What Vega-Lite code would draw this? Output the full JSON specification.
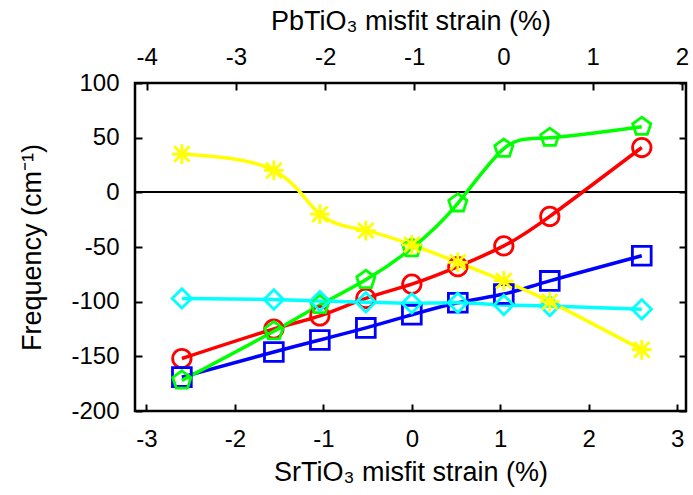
{
  "$schema": "https://vega.github.io/schema/vega-lite/v6.json",
  "autosize": {"type": "none"},
  "width": 551,
  "height": 328,
  "padding": {"left": 135, "top": 83, "right": 7, "bottom": 84},
  "background": "white",
  "config": {
    "font": "Liberation Sans",
    "view": {"stroke": "black", "strokeWidth": 2.5},
    "axis": {
      "domain": false,
      "grid": false,
      "tickColor": "black",
      "tickWidth": 2,
      "tickSize": -7,
      "labelColor": "black",
      "titleColor": "black",
      "labelFont": "Liberation Sans",
      "titleFont": "Liberation Sans",
      "labelFontSize": 24,
      "titleFontSize": 27,
      "titleFontWeight": "normal",
      "labelPadding": 23,
      "labelExpr": "'' + datum.value"
    }
  },
  "datasets": {
    "modes": [
      {"s": -2.6, "f": -152, "series": "red"},
      {"s": -1.56, "f": -125, "series": "red"},
      {"s": -1.04, "f": -113, "series": "red"},
      {"s": -0.52, "f": -97, "series": "red"},
      {"s": 0, "f": -84, "series": "red"},
      {"s": 0.52, "f": -68, "series": "red"},
      {"s": 1.04, "f": -49, "series": "red"},
      {"s": 1.56, "f": -22, "series": "red"},
      {"s": 2.6, "f": 41, "series": "red"},
      {"s": -2.6, "f": -169, "series": "blue"},
      {"s": -1.56, "f": -146, "series": "blue"},
      {"s": -1.04, "f": -135, "series": "blue"},
      {"s": -0.52, "f": -124, "series": "blue"},
      {"s": 0, "f": -112, "series": "blue"},
      {"s": 0.52, "f": -101, "series": "blue"},
      {"s": 1.04, "f": -93, "series": "blue"},
      {"s": 1.56, "f": -81, "series": "blue"},
      {"s": 2.6, "f": -58, "series": "blue"},
      {"s": -2.6, "f": -172, "series": "green"},
      {"s": -1.56, "f": -127, "series": "green"},
      {"s": -1.04, "f": -103, "series": "green"},
      {"s": -0.52, "f": -80, "series": "green"},
      {"s": 0, "f": -51, "series": "green"},
      {"s": 0.52, "f": -10, "series": "green"},
      {"s": 1.04, "f": 40, "series": "green"},
      {"s": 1.56, "f": 50, "series": "green"},
      {"s": 2.6, "f": 60, "series": "green"},
      {"s": -2.6, "f": -97, "series": "cyan"},
      {"s": -1.56, "f": -98, "series": "cyan"},
      {"s": -1.04, "f": -99.5, "series": "cyan"},
      {"s": -0.52, "f": -100.5, "series": "cyan"},
      {"s": 0, "f": -101.5, "series": "cyan"},
      {"s": 0.52, "f": -101, "series": "cyan"},
      {"s": 1.04, "f": -103, "series": "cyan"},
      {"s": 1.56, "f": -104, "series": "cyan"},
      {"s": 2.6, "f": -107, "series": "cyan"},
      {"s": -2.6, "f": 35, "series": "yellow"},
      {"s": -1.56, "f": 20, "series": "yellow"},
      {"s": -1.04, "f": -20, "series": "yellow"},
      {"s": -0.52, "f": -35, "series": "yellow"},
      {"s": 0, "f": -48, "series": "yellow"},
      {"s": 0.52, "f": -64, "series": "yellow"},
      {"s": 1.04, "f": -81, "series": "yellow"},
      {"s": 1.56, "f": -100, "series": "yellow"},
      {"s": 2.6, "f": -144, "series": "yellow"}
    ],
    "topaxis": [
      {"pb": -4.13, "fy": -200},
      {"pb": 2.045, "fy": 100}
    ]
  },
  "layer": [
    {
      "data": {"name": "modes"},
      "layer": [
        {
          "mark": {"type": "rule", "color": "black", "strokeWidth": 1},
          "encoding": {"y": {"datum": 0}}
        },
        {
          "mark": {"type": "line", "interpolate": "natural", "strokeWidth": 3.5},
          "encoding": {
            "x": {"field": "s", "type": "quantitative"},
            "y": {"field": "f", "type": "quantitative"},
            "color": {"field": "series", "type": "nominal", "legend": null,
              "scale": {"domain": ["red", "blue", "green", "cyan", "yellow"], "range": ["#ff0000", "#0000ff", "#00ff00", "#00ffff", "#ffff00"]}}
          }
        },
        {
          "mark": {"type": "point", "filled": false, "strokeWidth": 2.8, "opacity": 1},
          "encoding": {
            "x": {"field": "s", "type": "quantitative",
              "scale": {"domain": [-3.13, 3.1], "nice": false, "zero": false},
              "axis": {"orient": "bottom", "values": [-3, -2, -1, 0, 1, 2, 3], "title": "SrTiO₃ misfit strain (%)", "titlePadding": 8.5}},
            "y": {"field": "f", "type": "quantitative",
              "scale": {"domain": [-200, 100], "nice": false, "zero": false},
              "axis": {"orient": "left", "values": [-200, -150, -100, -50, 0, 50, 100], "title": "Frequency (cm⁻¹)", "titlePadding": 24}},
            "color": {"field": "series", "type": "nominal", "legend": null,
              "scale": {"domain": ["red", "blue", "green", "cyan", "yellow"], "range": ["#ff0000", "#0000ff", "#00ff00", "#00ffff", "#ffff00"]}},
            "shape": {"field": "series", "type": "nominal", "legend": null,
              "scale": {"domain": ["red", "blue", "green", "cyan", "yellow"],
                "range": ["circle", "square", "M0,-1L0.951,-0.309L0.588,0.809L-0.588,0.809L-0.951,-0.309Z", "diamond", "M0,-1L0,1M-1,0L1,0M-0.78,-0.78L0.78,0.78M-0.78,0.78L0.78,-0.78"]}},
            "size": {"field": "series", "type": "nominal", "legend": null,
              "scale": {"domain": ["red", "blue", "green", "cyan", "yellow"], "range": [340, 390, 450, 430, 600]}}
          }
        }
      ]
    },
    {
      "data": {"name": "topaxis"},
      "mark": {"type": "point", "opacity": 0},
      "encoding": {
        "x": {"field": "pb", "type": "quantitative",
          "scale": {"domain": [-4.13, 2.045], "nice": false, "zero": false},
          "axis": {"orient": "top", "values": [-4, -3, -2, -1, 0, 1, 2], "title": "PbTiO₃ misfit strain (%)", "titlePadding": 10, "labelPadding": 21}},
        "y": {"field": "fy", "type": "quantitative",
          "scale": {"domain": [-200, 100], "nice": false, "zero": false},
          "axis": {"orient": "right", "values": [-200, -150, -100, -50, 0, 50, 100], "labels": false, "title": null}}
      }
    }
  ],
  "resolve": {"scale": {"x": "independent", "y": "independent"}}
}
